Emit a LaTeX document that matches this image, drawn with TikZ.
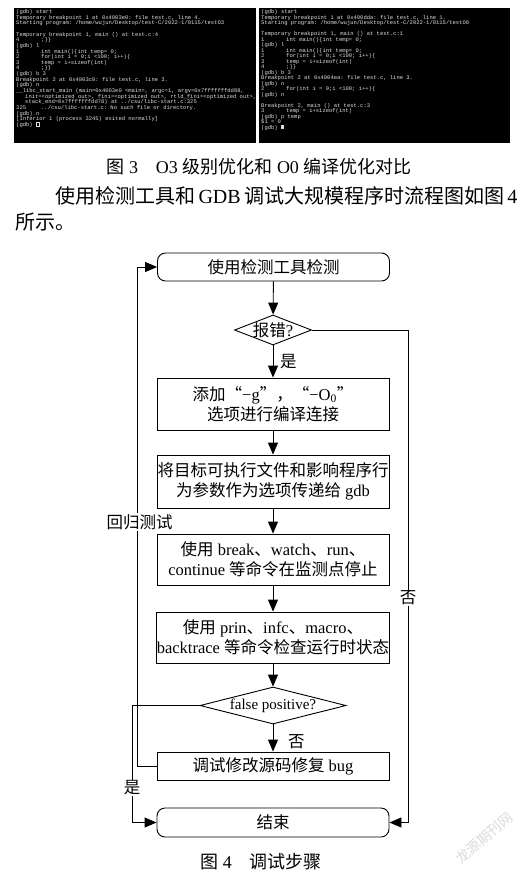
\documentclass[tikz,border=0pt]{standalone}
\usepackage{fontspec}
\setmainfont{Liberation Serif}
\setmonofont{Liberation Mono}
\newfontfamily\cjk{Noto Sans CJK SC}
\usetikzlibrary{arrows.meta,shapes.geometric}
\newcommand\codeln[2]{\makebox[25pt][l]{#1}#2}
\newcommand\hollowcur{{\fboxsep=0pt\fboxrule=0.4pt\fbox{\rule{0pt}{3.8pt}\hspace{2.8pt}}}}
\newcommand\flowfont{\fontsize{16.5}{20}\selectfont}
\definecolor{termtext}{gray}{0.87}
\tikzset{
  termtxt/.style={anchor=north west, inner sep=0pt, align=left, text=termtext},
  fbox/.style={draw, line width=0.9pt, minimum width=232pt, inner sep=0pt, align=center, font=\flowfont},
  procbox/.style={fbox, rectangle},
  roundbox/.style={fbox, rounded corners=8pt, minimum height=28pt},
  decbox/.style={draw, line width=0.9pt, diamond, inner sep=0pt, font=\flowfont},
  conn/.style={line width=0.9pt, -{Triangle[length=12pt,width=10pt]}},
  link/.style={line width=0.9pt},
  lbl/.style={font=\flowfont, inner sep=1pt},
  wlbl/.style={lbl, fill=white},
  captxt/.style={inner sep=0pt, font=\fontsize{18}{22}\selectfont},
  bodytxt/.style={inner sep=0pt, anchor=west, font=\fontsize{20}{26}\selectfont}
}
\begin{document}
\begin{tikzpicture}[x=1pt,y=-1pt]
\useasboundingbox (0,0) rectangle (526,876);
\fill[white] (0,0) rectangle (526,876);

% ---------- terminal screenshots ----------
\fill[black] (14,8) rectangle (256,143);
\fill[black] (259,8) rectangle (510,143);
\begin{scope}
\clip (14,8) rectangle (256,143);
\node[termtxt, font=\fontsize{5.5}{5.65}\selectfont\ttfamily] (t1) at (16,9.3) {%
(gdb) start\\
Temporary breakpoint 1 at 0x4003e0: file test.c, line 4.\\
Starting program: /home/wujun/Desktop/test-C/2022-1/0115/testO3\\
\mbox{}\\
Temporary breakpoint 1, main () at test.c:4\\
\codeln{4}{;\}\}}\\
(gdb) l\\
\codeln{1}{int main()\{int temp= 0;}\\
\codeln{2}{for(int i = 0;i <100; i++)\{}\\
\codeln{3}{temp = i+sizeof(int)}\\
\codeln{4}{;\}\}}\\
(gdb) b 3\\
Breakpoint 2 at 0x4003c0: file test.c, line 3.\\
(gdb) n\\
\_\_libc\_start\_main (main=0x4003e0 <main>, argc=1, argv=0x7fffffffdd88,\\
\hspace*{9pt}init=<optimized out>, fini=<optimized out>, rtld\_fini=<optimized out>,\\
\hspace*{9pt}stack\_end=0x7fffffffdd78) at ../csu/libc-start.c:325\\
\codeln{325}{../csu/libc-start.c: No such file or directory.}\\
(gdb) n\\
{[}Inferior 1 (process 3245) exited normally{]}\\
(gdb) \hollowcur};
\end{scope}
\begin{scope}
\clip (259,8) rectangle (510,143);
\node[termtxt, font=\fontsize{5.5}{5.52}\selectfont\ttfamily] (t2) at (261,9.3) {%
(gdb) start\\
Temporary breakpoint 1 at 0x400dda: file test.c, line 1.\\
Starting program: /home/wujun/Desktop/test-C/2022-1/0115/testO0\\
\mbox{}\\
Temporary breakpoint 1, main () at test.c:1\\
\codeln{1}{int main()\{int temp= 0;}\\
(gdb) l\\
\codeln{1}{int main()\{int temp= 0;}\\
\codeln{2}{for(int i = 0;i <100; i++)\{}\\
\codeln{3}{temp = i+sizeof(int)}\\
\codeln{4}{;\}\}}\\
(gdb) b 3\\
Breakpoint 2 at 0x4004ea: file test.c, line 3.\\
(gdb) n\\
\codeln{2}{for(int i = 0;i <100; i++)\{}\\
(gdb) n\\
\mbox{}\\
Breakpoint 2, main () at test.c:3\\
\codeln{3}{temp = i+sizeof(int)}\\
(gdb) p temp\\
\$1 = 0\\
(gdb) \rule{2.8pt}{4.2pt}};
\end{scope}

% ---------- caption and body text ----------
\node[captxt] (cap3) at (259,167) {{\cjk 图} 3\quad O3 {\cjk 级别优化和} O0 {\cjk 编译优化对比}};
\node[bodytxt] (p1) at (55,196) {\makebox[445pt][s]{{\cjk 使用检测工具和} GDB {\cjk 调试大规模程序时流程图如图} 4}};
\node[bodytxt] (p2) at (15,222) {{\cjk 所示。}};

% ---------- flowchart ----------
\node[roundbox] (start) at (273.5,267) {{\cjk 使用检测工具检测}};
\node[decbox, minimum width=77pt, minimum height=30pt] (dec1) at (273,330) {\makebox[0pt]{{\cjk 报错}?}};
\node[procbox, minimum height=52pt] (box2) at (273,404) {{\cjk 添加“}−g{\cjk ”，“}−O\textsubscript{0}{\cjk ”}\\{\cjk 选项进行编译连接}};
\node[procbox, minimum height=53pt] (box3) at (273,481.5) {{\cjk 将目标可执行文件和影响程序行}\\{\cjk 为参数作为选项传递给} gdb};
\node[procbox, minimum height=51pt] (box4) at (273,559.5) {{\cjk 使用} break{\cjk 、}watch{\cjk 、}run{\cjk 、}\\continue {\cjk 等命令在监测点停止}};
\node[procbox, minimum height=51pt] (box5) at (273,637.5) {{\cjk 使用} prin{\cjk 、}infc{\cjk 、}macro{\cjk 、}\\backtrace {\cjk 等命令检查运行时状态}};
\node[decbox, minimum width=146pt, minimum height=37pt, font=\fontsize{15}{18}\selectfont] (dec2) at (273,705.5) {\makebox[0pt]{false positive?}};
\node[procbox, minimum height=28pt] (box6) at (273,766) {{\cjk 调试修改源码修复} bug};
\node[roundbox, minimum height=29pt] (endn) at (273,822.5) {{\cjk 结束}};

\coordinate (rx) at (408,0);
\coordinate (lx) at (137,0);
\coordinate (yx) at (132,0);

\draw[conn] (start) -- (dec1);
\draw[conn] (dec1) -- (box2);
\draw[conn] (box2) -- (box3);
\draw[conn] (box3) -- (box4);
\draw[conn] (box4) -- (box5);
\draw[conn] (box5) -- (dec2);
\draw[conn] (dec2) -- (box6);
\draw[conn] (dec1.east) -| (rx |- endn.east) -- (endn.east);
\draw[conn] (box6.west) -| (lx |- start.west) -- (start.west);
\draw[conn] (dec2.west) -| (yx |- endn.west) -- (endn.west);

\node[lbl, anchor=west] (yes1) at (279,362) {{\cjk 是}};
\node[lbl, anchor=west] (no2) at (287,742) {{\cjk 否}};
\node[wlbl] (no1) at (408,598) {{\cjk 否}};
\node[wlbl] (loop) at (139.5,522) {{\cjk 回归测试}};
\node[wlbl] (yes2) at (132,788) {{\cjk 是}};

\node[captxt] (cap4) at (261,862) {{\cjk 图} 4\quad {\cjk 调试步骤}};
\node[rotate=41, text=black!14, inner sep=0pt, font={\cjk\fontsize{14}{14}\selectfont}] (wm) at (484,838) {龙源期刊网};
\end{tikzpicture}
\end{document}
